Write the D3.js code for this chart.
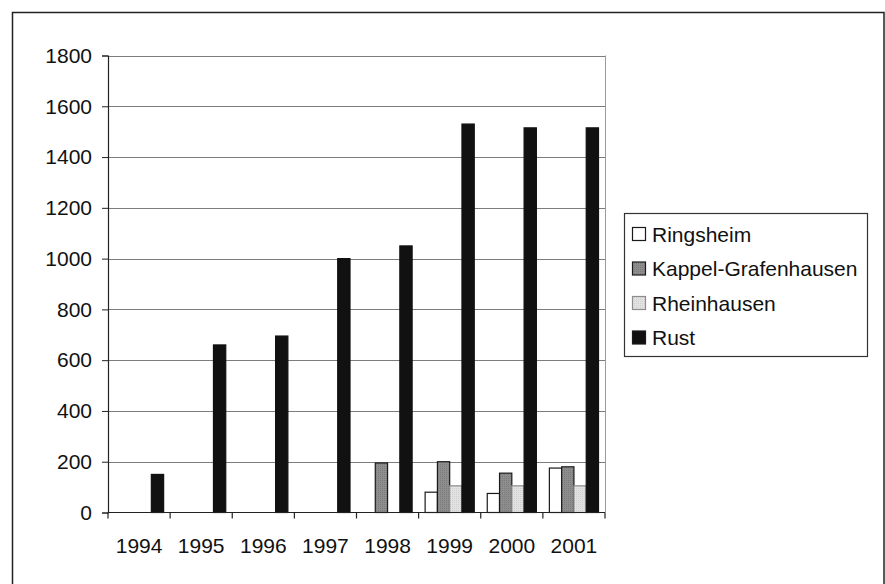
<!DOCTYPE html>
<html>
<head>
<meta charset="utf-8">
<script src="https://cdn.jsdelivr.net/npm/d3@7/dist/d3.min.js"></script>
<style>
  html, body { margin: 0; padding: 0; background: #fff; }
  svg { display: block; font-family: "Liberation Sans", Arial, sans-serif; }
</style>
</head>
<body>
<svg id="chart" width="885" height="584"></svg>
<script>
// Years on the category axis
const years = ["1994", "1995", "1996", "1997", "1998", "1999", "2000", "2001"];

// Series values per year (null = no bar)
const ringsheim   = [null, null, null, null, null, 80, 75, 175];
const kappel      = [null, null, null, null, 195, 200, 155, 180];
const rheinhausen = [null, null, null, null, null, 105, 105, 105];
const rust        = [150, 660, 695, 1000, 1050, 1530, 1515, 1515];

const seriesNames = ["Ringsheim", "Kappel-Grafenhausen", "Rheinhausen", "Rust"];
const yTicks = [0, 200, 400, 600, 800, 1000, 1200, 1400, 1600, 1800];

const FONT = 21;

const series = [
  { name: seriesNames[0], values: ringsheim,   fill: "#ffffff",        stroke: "#1a1a1a" },
  { name: seriesNames[1], values: kappel,      fill: "url(#dotGray)",  stroke: "#1a1a1a" },
  { name: seriesNames[2], values: rheinhausen, fill: "url(#dotLight)", stroke: "#8c8c8c" },
  { name: seriesNames[3], values: rust,        fill: "#111111",        stroke: "#111111" }
];

const svg = d3.select("#chart");

// Textured fills for the grey series
const defs = svg.append("defs");
const p1 = defs.append("pattern").attr("id", "dotGray")
  .attr("width", 2).attr("height", 2).attr("patternUnits", "userSpaceOnUse");
p1.append("rect").attr("width", 2).attr("height", 2).attr("fill", "#8e8e8e");
p1.append("rect").attr("width", 1).attr("height", 1).attr("fill", "#7a7a7a");
const p2 = defs.append("pattern").attr("id", "dotLight")
  .attr("width", 2).attr("height", 2).attr("patternUnits", "userSpaceOnUse");
p2.append("rect").attr("width", 2).attr("height", 2).attr("fill", "#e2e2e2");
p2.append("rect").attr("width", 1).attr("height", 1).attr("fill", "#cfcfcf");

// Outer chart frame
svg.append("rect")
  .attr("x", 12.5).attr("y", 12.5).attr("width", 871.5).attr("height", 600)
  .attr("fill", "none").attr("stroke", "#222").attr("stroke-width", 1.5);

const plot = { left: 108, right: 605, top: 55.5, bottom: 512.5 };

const x = d3.scaleBand().domain(years).range([plot.left, plot.right]).padding(0);
const xInner = d3.scaleBand().domain(seriesNames)
  .range([6.5, x.bandwidth() - 6.5]).padding(0);
const y = d3.scaleLinear().domain([0, 1800]).range([plot.bottom, plot.top]);

// Horizontal gridlines
svg.append("g").selectAll("line").data(yTicks.filter(d => d > 0)).join("line")
  .attr("x1", plot.left).attr("x2", plot.right)
  .attr("y1", d => Math.round(y(d)) + 0.5).attr("y2", d => Math.round(y(d)) + 0.5)
  .attr("stroke", "#7d7d7d").attr("stroke-width", 1);

// Right edge of plot area
svg.append("line")
  .attr("x1", plot.right + 0.5).attr("x2", plot.right + 0.5)
  .attr("y1", plot.top).attr("y2", plot.bottom)
  .attr("stroke", "#9a9a9a").attr("stroke-width", 1);

// Bars
series.forEach(s => {
  svg.append("g").selectAll("rect")
    .data(years.map((yr, i) => ({ yr, v: s.values[i] })).filter(d => d.v != null))
    .join("rect")
    .attr("x", d => x(d.yr) + xInner(s.name))
    .attr("y", d => y(d.v))
    .attr("width", xInner.bandwidth())
    .attr("height", d => y(0) - y(d.v))
    .attr("fill", s.fill)
    .attr("stroke", s.stroke)
    .attr("stroke-width", 1.2);
});

// Y axis
const yAxis = d3.axisLeft(y).tickValues(yTicks).tickSize(6).tickPadding(10)
  .tickFormat(d3.format("d"));
const gy = svg.append("g").attr("transform", `translate(${plot.left},0)`).call(yAxis);
gy.select(".domain").attr("stroke", "#222").attr("stroke-width", 1.2);
gy.selectAll(".tick line").attr("stroke", "#222");
gy.selectAll(".tick text").attr("font-size", FONT).attr("fill", "#111")
  .attr("font-family", "Liberation Sans, Arial, sans-serif");

// X axis with ticks on category boundaries
const gx = svg.append("g").attr("transform", `translate(0,${plot.bottom})`);
gx.append("line").attr("x1", plot.left).attr("x2", plot.right)
  .attr("y1", 0).attr("y2", 0).attr("stroke", "#222").attr("stroke-width", 1.2);
const bounds = years.map(yr => x(yr)).concat([plot.right]);
gx.selectAll("line.tk").data(bounds).join("line").attr("class", "tk")
  .attr("x1", d => d).attr("x2", d => d).attr("y1", 0).attr("y2", 6)
  .attr("stroke", "#222").attr("stroke-width", 1.2);
gx.selectAll("text").data(years).join("text")
  .attr("x", d => x(d) + x.bandwidth() / 2)
  .attr("y", 40)
  .attr("text-anchor", "middle")
  .attr("font-size", FONT).attr("fill", "#111")
  .text(d => d);

// Legend
const lg = svg.append("g").attr("transform", "translate(624,213)");
lg.append("rect").attr("x", 0.5).attr("y", 0.5).attr("width", 243).attr("height", 143)
  .attr("fill", "#fff").attr("stroke", "#333").attr("stroke-width", 1.2);
series.forEach((s, i) => {
  const cy = 21 + i * 34.5;
  lg.append("rect").attr("x", 8.5).attr("y", cy - 6.5).attr("width", 13).attr("height", 13)
    .attr("fill", s.fill).attr("stroke", i === 2 ? "#8c8c8c" : "#1a1a1a").attr("stroke-width", 1.2);
  lg.append("text").attr("x", 28).attr("y", cy + 7.5)
    .attr("font-size", FONT).attr("fill", "#111").text(s.name);
});
</script>
</body>
</html>
